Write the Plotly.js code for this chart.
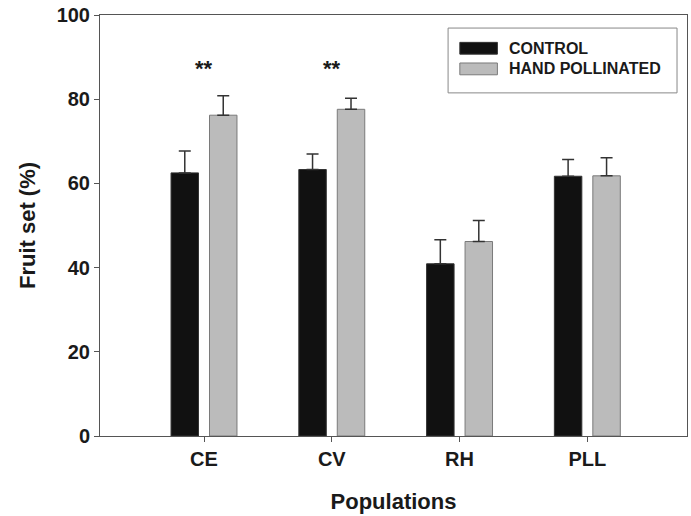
<!DOCTYPE html>
<html>
<head>
<meta charset="utf-8">
<script src="https://cdn.plot.ly/plotly-3.0.1.min.js"></script>
<style>html,body{margin:0;padding:0;background:#fff;}#chart{width:691px;height:516px;}</style>
</head>
<body>
<div id="chart"></div>
<script>
const categories = ["CE", "CV", "RH", "PLL"];
const controlValues = [62.5, 63.3, 40.9, 61.7];
const controlErrors = [5.2, 3.7, 5.7, 4.0];
const handValues = [76.2, 77.6, 46.2, 61.8];
const handErrors = [4.6, 2.6, 5.0, 4.3];
const significance = ["**", "**", "", ""];
const seriesNames = ["CONTROL", "HAND POLLINATED"];
const yTicks = [0, 20, 40, 60, 80, 100];

const idx = categories.map((_, i) => i);
const font = {family: "Liberation Sans, Arial, sans-serif", color: "#1a1a1a", weight: "bold"};

const traces = [
  {
    type: "bar", name: seriesNames[0], x: idx, y: controlValues,
    width: 0.215, offset: -0.258,
    marker: {color: "#111111", line: {color: "#333333", width: 1}},
    error_y: {type: "data", array: controlErrors, symmetric: false, arrayminus: controlErrors.map(() => 0),
              color: "#333333", thickness: 1.5, width: 6},
    showlegend: false
  },
  {
    type: "bar", name: seriesNames[1], x: idx, y: handValues,
    width: 0.215, offset: 0.043,
    marker: {color: "#bbbbbb", line: {color: "#7a7a7a", width: 1}},
    error_y: {type: "data", array: handErrors, symmetric: false, arrayminus: handErrors.map(() => 0),
              color: "#333333", thickness: 1.5, width: 6},
    showlegend: false
  }
];

const annotations = [];
significance.forEach((s, i) => {
  if (s) annotations.push({x: i, y: 87.4, xref: "x", yref: "y", text: s, showarrow: false,
    font: Object.assign({}, font, {size: 22}), yanchor: "middle"});
});
// legend (drawn in paper coordinates)
const legendColors = [["#111111", "#333333"], ["#bbbbbb", "#7a7a7a"]];
const shapes = [
  {type: "rect", xref: "paper", yref: "paper", x0: 0.593, x1: 0.983, y0: 0.815, y1: 0.969,
   line: {color: "#888888", width: 1}, fillcolor: "rgba(0,0,0,0)"}
];
seriesNames.forEach((n, i) => {
  const yc = i === 0 ? 0.921 : 0.872;
  shapes.push({type: "rect", xref: "paper", yref: "paper", x0: 0.613, x1: 0.677,
    y0: yc - 0.014, y1: yc + 0.014, fillcolor: legendColors[i][0], line: {color: legendColors[i][1], width: 1}});
  annotations.push({xref: "paper", yref: "paper", x: 0.693, y: yc, text: n, showarrow: false,
    xanchor: "left", yanchor: "middle", font: Object.assign({}, font, {size: 16})});
});

const layout = {
  width: 691, height: 516,
  margin: {l: 100, r: 4, t: 15, b: 80},
  paper_bgcolor: "#ffffff", plot_bgcolor: "#ffffff",
  showlegend: false,
  xaxis: {
    range: [-0.814, 3.78], tickvals: idx, ticktext: categories,
    ticks: "outside", ticklen: 5, tickcolor: "#555555", tickwidth: 1,
    showline: true, linecolor: "#555555", linewidth: 1, mirror: true,
    showgrid: false, zeroline: false,
    tickfont: Object.assign({}, font, {size: 20}),
    title: {text: "Populations", font: Object.assign({}, font, {size: 22}), standoff: 24}
  },
  yaxis: {
    range: [0, 100], tickvals: yTicks,
    ticks: "outside", ticklen: 5, tickcolor: "#555555", tickwidth: 1,
    showline: true, linecolor: "#555555", linewidth: 1, mirror: true,
    showgrid: false, zeroline: false,
    tickfont: Object.assign({}, font, {size: 20}),
    title: {text: "Fruit set (%)", font: Object.assign({}, font, {size: 22}), standoff: 14}
  },
  annotations: annotations,
  shapes: shapes
};

Plotly.newPlot("chart", traces, layout, {displayModeBar: false, staticPlot: true});
</script>
</body>
</html>
